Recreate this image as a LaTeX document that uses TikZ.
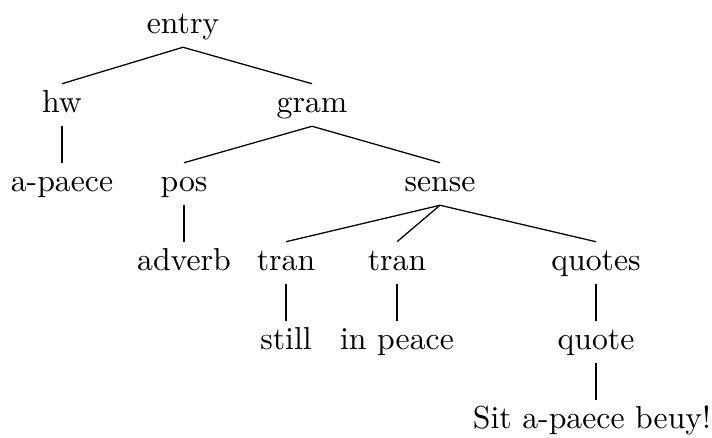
\documentclass[tikz,border=0pt]{standalone}
\begin{document}
\begin{tikzpicture}[x=0.315pt,y=-0.315pt,
  tn/.style={inner sep=2pt,text height=7pt,text depth=2pt},
  edge/.style={draw=black,line width=0.4pt}]
\useasboundingbox (0,0) rectangle (712,437);
\node[tn] (entry) at (183,26) {entry};
\node[tn] (hw) at (62,105) {hw};
\node[tn] (gram) at (312,105) {gram};
\node[tn] (apaece) at (62,184) {a-paece};
\node[tn] (pos) at (184,184) {pos};
\node[tn] (sense) at (440,184) {sense};
\node[tn] (adverb) at (184,263) {adverb};
\node[tn] (tranA) at (286,263) {tran};
\node[tn] (tranB) at (397,263) {tran};
\node[tn] (quotes) at (596,263) {quotes};
\node[tn] (still) at (286,342) {still};
\node[tn] (inpeace) at (397,342) {in peace};
\node[tn] (quote) at (596,342) {quote};
\node[tn] (sit) at (592,421) {Sit a-paece beuy!};
\draw[edge] (entry.south) -- (hw.north);
\draw[edge] (entry.south) -- (gram.north);
\draw[edge] (hw.south) -- (apaece.north);
\draw[edge] (gram.south) -- (pos.north);
\draw[edge] (gram.south) -- (sense.north);
\draw[edge] (pos.south) -- (adverb.north);
\draw[edge] (sense.south) -- (tranA.north);
\draw[edge] (sense.south) -- (tranB.north);
\draw[edge] (sense.south) -- (quotes.north);
\draw[edge] (tranA.south) -- (still.north);
\draw[edge] (tranB.south) -- (inpeace.north);
\draw[edge] (quotes.south) -- (quote.north);
\draw[edge] (quote.south) -- (quote.south |- sit.north);
\end{tikzpicture}
\end{document}
